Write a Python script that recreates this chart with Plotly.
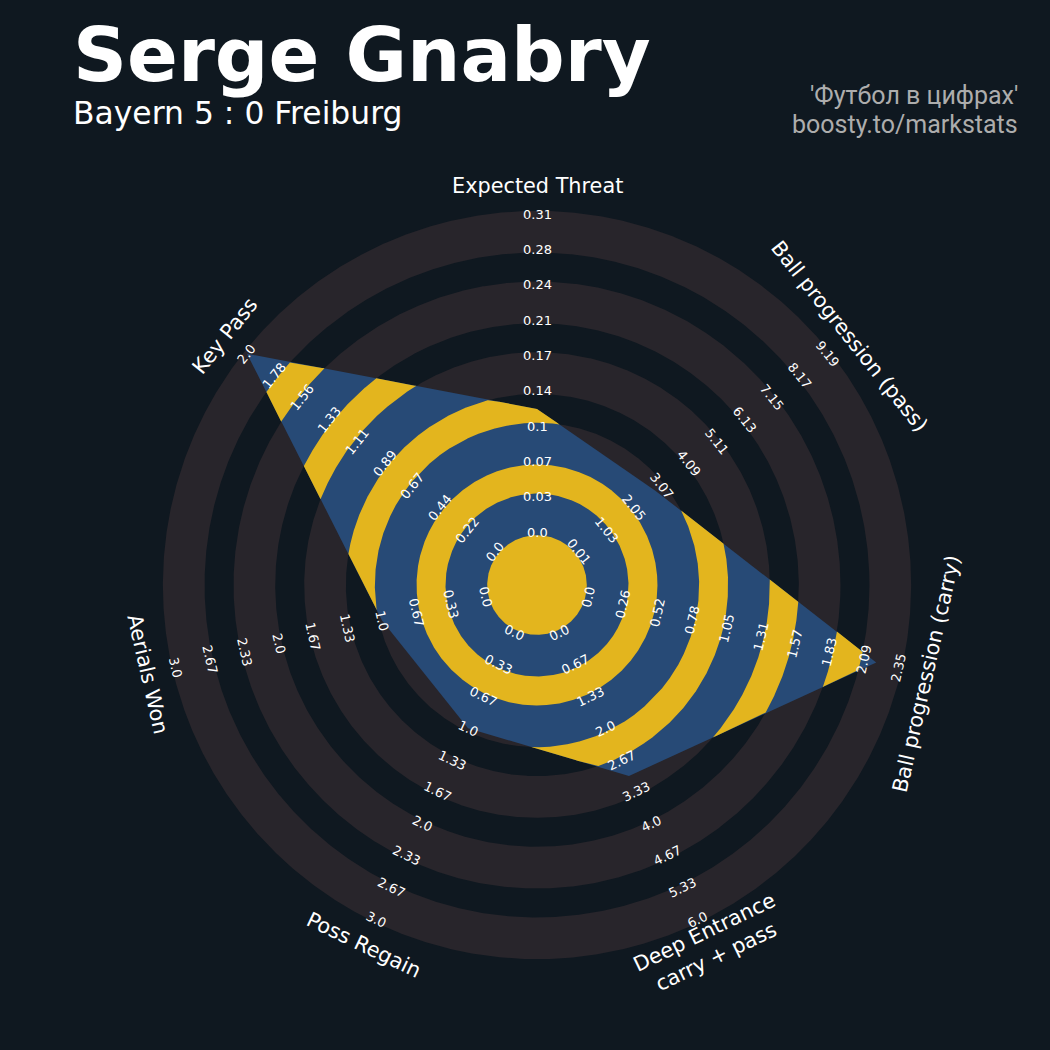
import numpy as np
import plotly.graph_objects as go

# ---------------- data ----------------
params = ["Expected Threat", "Ball progression (pass)", "Ball progression (carry)",
          "Deep Entrance<br>carry + pass", "Poss Regain", "Aerials Won", "Key Pass"]
low = [0.0, 0.01, 0.0, 0.0, 0.0, 0.0, 0.0]
high = [0.31, 9.19, 2.35, 6.0, 3.0, 3.0, 2.0]
values = [0.12, 2.85, 2.18, 3.0, 1.0, 1.0, 2.0]

range_labels = [
    ["0.0", "0.03", "0.07", "0.1", "0.14", "0.17", "0.21", "0.24", "0.28", "0.31"],
    ["0.01", "1.03", "2.05", "3.07", "4.09", "5.11", "6.13", "7.15", "8.17", "9.19"],
    ["0.0", "0.26", "0.52", "0.78", "1.05", "1.31", "1.57", "1.83", "2.09", "2.35"],
    ["0.0", "0.67", "1.33", "2.0", "2.67", "3.33", "4.0", "4.67", "5.33", "6.0"],
    ["0.0", "0.33", "0.67", "1.0", "1.33", "1.67", "2.0", "2.33", "2.67", "3.0"],
    ["0.0", "0.33", "0.67", "1.0", "1.33", "1.67", "2.0", "2.33", "2.67", "3.0"],
    ["0.0", "0.22", "0.44", "0.67", "0.89", "1.11", "1.33", "1.56", "1.78", "2.0"],
]

title = "Serge Gnabry"
subtitle = "Bayern 5 : 0 Freiburg"
credit = ["'Футбол в цифрах'", "boosty.to/markstats"]

# ---------------- style ----------------
BG = "#0f1820"
RING_DARK = "#28252b"
BLUE = "#274a76"
YELLOW = "#e3b51e"
FONT = "DejaVu Sans"

R0 = 1.5        # radius of the first range label (min value)
NSTEP = 9       # number of label steps
EXT = 0.09      # widening of the wide bands
n = len(params)
angles = np.deg2rad(90 - 360.0 / n * np.arange(n))


def to_radius(v, lo, hi):
    return R0 + NSTEP * (v - lo) / (hi - lo)


radii = np.array([to_radius(v, l, h) for v, l, h in zip(values, low, high)])
vx = radii * np.cos(angles)
vy = radii * np.sin(angles)


def rho(phi):
    d0, d1 = np.cos(phi), np.sin(phi)
    best = np.full(phi.shape, np.inf)
    for i in range(n):
        p0, p1 = vx[i], vy[i]
        e0, e1 = vx[(i + 1) % n] - p0, vy[(i + 1) % n] - p1
        det = -d0 * e1 + e0 * d1
        with np.errstate(divide="ignore", invalid="ignore"):
            t = (-p0 * e1 + e0 * p1) / det
            s = (d0 * p1 - d1 * p0) / det
        ok = np.isfinite(t) & (s >= -1e-9) & (s <= 1 + 1e-9) & (t > 0)
        best = np.where(ok, np.minimum(best, t), best)
    return best


fig = go.Figure()


def add_fill(x, y, color):
    fig.add_trace(go.Scatter(x=x, y=y, mode="lines", fill="toself",
                             fillcolor=color, line=dict(width=0, color=color),
                             hoverinfo="skip", showlegend=False))


def full_annulus(a, b, color):
    ph = np.linspace(0, 2 * np.pi, 1441)
    x = np.concatenate([b * np.cos(ph), a * np.cos(ph[::-1]), [b]])
    y = np.concatenate([b * np.sin(ph), a * np.sin(ph[::-1]), [0.0]])
    add_fill(x, y, color)


def clipped_annulus(a, b, color):
    start = angles[0]
    ph = start + np.unique(np.concatenate([
        np.linspace(0, 2 * np.pi, 5761),
        np.mod(angles - start, 2 * np.pi)]))
    rr = rho(ph)
    inside = rr > a
    idx = np.where(inside)[0]
    if len(idx) == 0:
        return
    runs = np.split(idx, np.where(np.diff(idx) > 1)[0] + 1)
    for run in runs:
        lo_i = max(run[0] - 1, 0)
        hi_i = min(run[-1] + 1, len(ph) - 1)
        sel = np.arange(lo_i, hi_i + 1)
        p = ph[sel]
        out = np.clip(rr[sel], a, b)
        x = np.concatenate([out * np.cos(p), a * np.cos(p[::-1])])
        y = np.concatenate([out * np.sin(p), a * np.sin(p[::-1])])
        x = np.append(x, x[0])
        y = np.append(y, y[0])
        add_fill(x, y, color)


wide_bands = [(R0 + k - EXT, R0 + k + 1 + EXT) for k in range(0, NSTEP, 2)]
narrow_bands = [(R0 + k + EXT, R0 + k + 1 - EXT) for k in range(1, NSTEP, 2)]

for a, b in wide_bands:
    full_annulus(a, b, RING_DARK)

# radar polygon
add_fill(np.append(vx, vx[0]), np.append(vy, vy[0]), BLUE)

# yellow centre disc and rings clipped to polygon
phc = np.linspace(0, 2 * np.pi, 721)
rc = R0 - EXT
add_fill(rc * np.cos(phc), rc * np.sin(phc), YELLOW)
for a, b in narrow_bands:
    clipped_annulus(a, b, YELLOW)

annotations = []


def rot_ccw(theta_deg):
    r = theta_deg - 90
    while r <= -90:
        r += 180
    while r > 90:
        r -= 180
    return r


for i in range(n):
    th = np.rad2deg(angles[i])
    rot = rot_ccw(th)
    for k, lab in enumerate(range_labels[i]):
        r = R0 + k
        annotations.append(dict(x=r * np.cos(angles[i]), y=r * np.sin(angles[i]),
                                xref="x", yref="y", text=lab, showarrow=False,
                                textangle=-rot, xanchor="center", yanchor="middle",
                                font=dict(family=FONT, size=13, color="white")))
    rp = 11.3
    annotations.append(dict(x=rp * np.cos(angles[i]), y=rp * np.sin(angles[i]),
                            xref="x", yref="y", text=params[i], showarrow=False,
                            textangle=-rot, xanchor="center", yanchor="middle",
                            font=dict(family=FONT, size=20.8, color="white")))

W = H = 1050
annotations.append(dict(x=71 / W, y=1 - 55 / H, xref="paper", yref="paper",
                        text=title, showarrow=False, xanchor="left", yanchor="middle",
                        font=dict(family=FONT, size=75, color="white", weight="bold")))
annotations.append(dict(x=71 / W, y=1 - 113 / H, xref="paper", yref="paper",
                        text=subtitle, showarrow=False, xanchor="left", yanchor="middle",
                        font=dict(family=FONT, size=31.4, color="white")))
annotations.append(dict(x=1020 / W, y=1 - 96 / H, xref="paper", yref="paper",
                        text=credit[0], showarrow=False, xanchor="right", yanchor="middle",
                        font=dict(family="Roboto", size=25, color="#adadad")))
annotations.append(dict(x=1020 / W, y=1 - 124 / H, xref="paper", yref="paper",
                        text=credit[1], showarrow=False, xanchor="right", yanchor="middle",
                        font=dict(family="Roboto", size=25, color="#adadad")))

PX = 35.33
cx, cy = 537, 585
fig.update_layout(
    width=W, height=H, margin=dict(l=0, r=0, t=0, b=0),
    paper_bgcolor=BG, plot_bgcolor=BG,
    xaxis=dict(range=[-cx / PX, (W - cx) / PX], visible=False, fixedrange=True),
    yaxis=dict(range=[-(H - cy) / PX, cy / PX], visible=False, fixedrange=True),
    annotations=annotations, showlegend=False,
)

fig.write_html(
    "out.html",
    config={"displayModeBar": False},
    post_script="document.body.style.margin='0';document.body.style.overflow='hidden';"
                "document.body.style.background='" + BG + "';",
)
